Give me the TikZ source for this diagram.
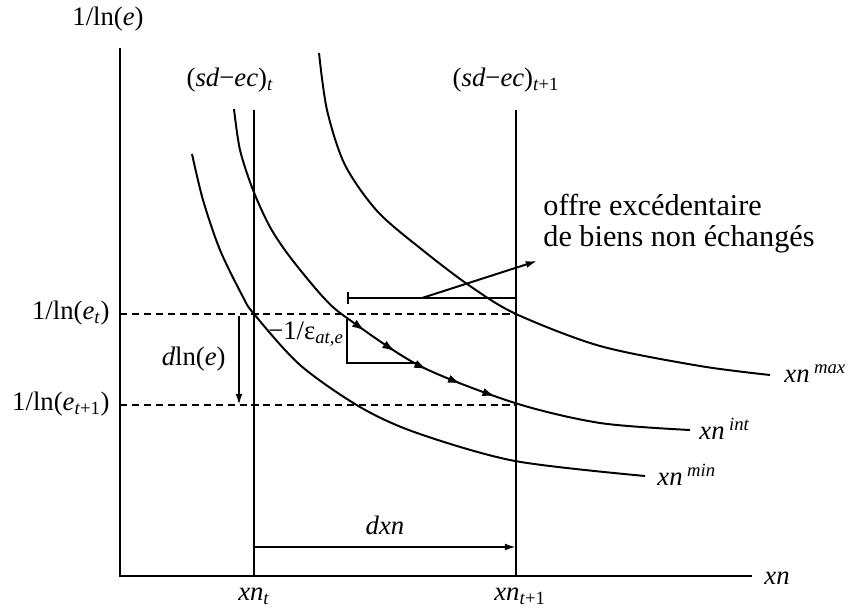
\documentclass[tikz,border=0pt]{standalone}
\usepackage{fontspec}
\setmainfont{Liberation Serif}
\usetikzlibrary{arrows.meta,positioning,decorations.markings}

\begin{document}
\begin{tikzpicture}[x=0.025cm, y=-0.025cm, font=\fontsize{19}{20}\selectfont, >={Latex[length=8pt,width=5pt]}, line width=1.4pt]
\tikzstyle{lbl}=[inner sep=1pt]
\tikzstyle{guide}=[dash pattern=on 5pt off 3.5pt]
\tikzstyle{flow}=[postaction={decorate}, decoration={markings,
  mark=at position 0.435 with {\arrow{Latex[length=9pt,width=6pt]}},
  mark=at position 0.495 with {\arrow{Latex[length=9pt,width=6pt]}},
  mark=at position 0.555 with {\arrow{Latex[length=9pt,width=6pt]}},
  mark=at position 0.615 with {\arrow{Latex[length=9pt,width=6pt]}},
  mark=at position 0.675 with {\arrow{Latex[length=9pt,width=6pt]}}}]
\useasboundingbox (0,0) rectangle (849,610);
% axes
\coordinate (O) at (120,576);
\coordinate (ytop) at (120,48);
\coordinate (xend) at (752,576);
\draw (ytop) -- (O) -- (xend);
\node[lbl] (ylab) at (108,19) {1/ln(\textit{e})};
\node[lbl, anchor=west] (xlab) at (762,578) {\textit{xn}};
% sd-ec lines
\coordinate (xt) at (254,576);
\coordinate (xttop) at (254,110);
\coordinate (xt1) at (516,576);
\coordinate (xt1top) at (516,110);
\draw (xttop) -- (xt);
\draw (xt1top) -- (xt1);
\node[lbl] (sdt) at (230,80) {(\textit{sd}−\textit{ec})\textsubscript{\textit{t}}};
\node[lbl] (sdt1) at (506,80) {(\textit{sd}−\textit{ec})\textsubscript{\textit{t}+1}};
\node[lbl] (xnt) at (254,596) {\textit{xn}\textsubscript{\textit{t}}};
\node[lbl] (xnt1) at (520,596) {\textit{xn}\textsubscript{\textit{t}+1}};
% exchange rate levels
\coordinate (et) at (120,314);
\coordinate (etR) at (516,314);
\coordinate (et1) at (120,405);
\coordinate (et1R) at (516,405);
\draw[guide] (et) -- (etR);
\draw[guide] (et1) -- (et1R);
\node[lbl, anchor=east] (etlab) at (112,313) {1/ln(\textit{e}\textsubscript{\textit{t}})};
\node[lbl, anchor=east] (et1lab) at (112,404) {1/ln(\textit{e}\textsubscript{\textit{t}+1})};
\coordinate (de0) at (239,316);
\coordinate (de1) at (239,405);
\draw[->] (de0) -- (de1);
\node[lbl, anchor=east] (delab) at (228,359) {\textit{d}ln(\textit{e})};
% dxn
\coordinate (dx0) at (254,547);
\coordinate (dx1) at (516,547);
\draw[->] (dx0) -- node[above=5pt] (dxlab) {\textit{dxn}} (dx1);
% curves
\draw plot[smooth] coordinates {(319,53) (327,110) (345,165) (378,212) (425,252) (470,286) (516,314) (600,346) (700,366) (770,375)};
\draw[flow] plot[smooth] coordinates {(234,109) (240,150) (253,190) (270,227) (290,257) (323,297) (347,318) (420,366) (515,403) (600,423) (690,430)};
\draw plot[smooth] coordinates {(192,154) (203,200) (220,250) (243,297) (254,314) (300,365) (360,407) (417,433) (515,461) (645,476)};
\node[lbl, anchor=west] (max) at (782,374) {\textit{xn}\,\textsuperscript{\textit{max}}};
\node[lbl, anchor=west] (int) at (697,429) {\textit{xn}\,\textsuperscript{\textit{int}}};
\node[lbl, anchor=west] (min) at (655,475) {\textit{xn}\,\textsuperscript{\textit{min}}};
% slope
\coordinate (s0) at (347,318);
\coordinate (s1) at (416,363);
\draw (s0) |- (s1);
\node[lbl, anchor=east] (slab) at (346,334) {−1/ε\textsubscript{\textit{at,e}}};
% excess supply
\coordinate (b0) at (347,298);
\coordinate (b1) at (516,298);
\draw[{Bar[width=8pt]}-] (b0) -- (b1);
\node[lbl, anchor=west, align=left, font=\fontsize{21.5}{22}\selectfont] (offre) at (541,224) {offre excédentaire\\de biens non échangés};
\coordinate (ex0) at (422,298);
\coordinate (ex1) at (537,261);
\draw[->] (ex0) -- (ex1);
\end{tikzpicture}
\end{document}
